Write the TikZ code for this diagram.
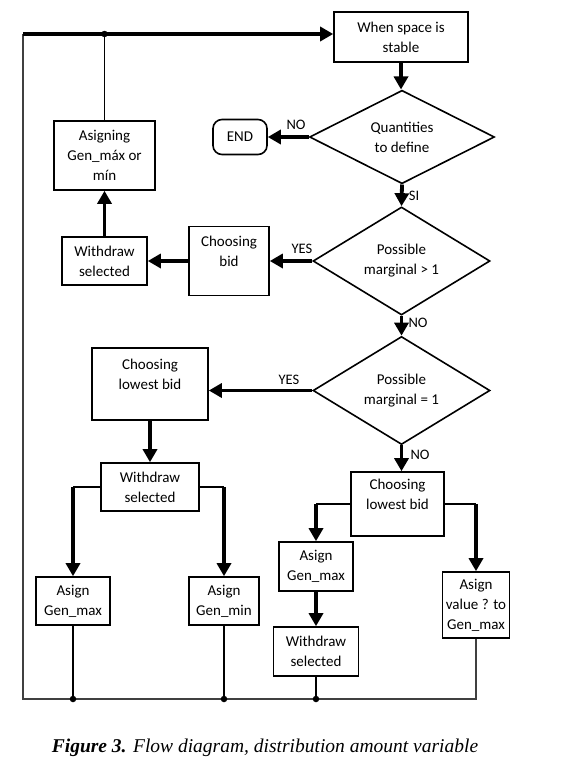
\documentclass[tikz,border=0pt]{standalone}
\usepackage{fontspec}
\setmainfont{Liberation Serif}
\newfontfamily\boxfont{Carlito}
\usetikzlibrary{arrows.meta,shapes.geometric}
\begin{document}
\begin{tikzpicture}[x=1pt,y=-1pt,
  every node/.style={font=\boxfont\fontsize{15}{20}\selectfont, inner sep=0pt, align=center},
  box/.style={draw, line width=1.6pt, rectangle},
  dec/.style={draw, line width=1.6pt, diamond},
  term/.style={draw, line width=1.6pt, rectangle, rounded corners=9pt},
  flow/.style={line width=3.8pt, -{Triangle[length=13pt,width=14pt]}},
  feed/.style={line width=2.2pt},
  thinline/.style={line width=1.5pt},
  loopline/.style={line width=2.2pt, black!75},
  lbl/.style={font=\boxfont\fontsize{14.5}{16}\selectfont},
  dot/.style={circle, fill, inner sep=0pt, minimum size=6.5pt},
]
\useasboundingbox (0,0) rectangle (580,779);

% nodes
\node[box, minimum width=134pt, minimum height=50pt] (start) at (401,37) {When space is\\stable};
\node[dec, minimum width=185pt, minimum height=87pt] (d1) at (402,137) {Quantities\\to define};
\node[term, minimum width=54pt, minimum height=35pt] (end) at (240,137) {END};
\node[dec, minimum width=177pt, minimum height=85pt] (d2) at (401.5,261) {Possible\\marginal > 1};
\node[box, minimum width=80pt, minimum height=69pt] (bid) at (229,261) {Choosing\\bid\\\mbox{}};
\node[box, minimum width=85pt, minimum height=48pt] (wd1) at (104.5,261) {Withdraw\\selected};
\node[box, minimum width=101pt, minimum height=69pt] (asg) at (104.5,155.5) {Asigning\\Gen\_máx or\\mín};
\node[dec, minimum width=177pt, minimum height=85pt] (d3) at (401.5,390.5) {Possible\\marginal = 1};
\node[box, minimum width=116pt, minimum height=72pt] (low1) at (150,384) {Choosing\\lowest bid\\\mbox{}};
\node[box, minimum width=98pt, minimum height=48pt] (wd2) at (150,487) {Withdraw\\selected};
\node[box, minimum width=74pt, minimum height=48pt] (gmax1) at (73,601) {Asign\\Gen\_max};
\node[box, minimum width=70pt, minimum height=48pt] (gmin) at (224,601) {Asign\\Gen\_min};
\node[box, minimum width=93pt, minimum height=64pt] (low2) at (397.5,504) {Choosing\\lowest bid\\\mbox{}};
\node[box, minimum width=74pt, minimum height=49pt] (gmax2) at (316,566.5) {Asign\\Gen\_max};
\node[box, minimum width=85pt, minimum height=49pt] (wd3) at (316,651.5) {Withdraw\\selected};
\node[box, minimum width=67pt, minimum height=66pt] (val) at (476,605) {Asign\\value ? to\\Gen\_max};

% coordinates
\coordinate (cTL) at (23,34);
\coordinate (cBL) at (23,699);
\coordinate (cBR) at (val.south |- cBL);
\coordinate (j0) at (asg.north |- cTL);
\coordinate (b1) at (gmax1.south |- cBL);
\coordinate (b2) at (gmin.south |- cBL);
\coordinate (b3) at (wd3.south |- cBL);
\coordinate (k1) at (wd2.west -| gmax1.north);
\coordinate (k2) at (wd2.east -| gmin.north);
\coordinate (k3) at (low2.west -| gmax2.north);
\coordinate (k4) at (low2.east -| val.north);

% main flow
\draw[flow] (start.south) -- (start.south |- d1.north);
\draw[flow] (d1.west) -- (end.east);
\draw[flow] (d1.south) -- (d2.north);
\draw[flow] (d2.west) -- (d2.west -| bid.east);
\draw[flow] (bid.west) -- (bid.west -| wd1.east);
\draw[flow] (wd1.north) -- (asg.south);
\draw[thinline] (asg.north) -- (j0);
\draw[flow] (d2.south) -- (d3.north);
\draw[flow] (d3.west) -- (d3.west -| low1.east);
\draw[flow] (low1.south) -- (wd2.north);
\draw[feed] (wd2.west) -- (k1);
\draw[flow] (k1) -- (gmax1.north);
\draw[feed] (wd2.east) -- (k2);
\draw[flow] (k2) -- (gmin.north);
\draw[flow] (d3.south) -- (d3.south |- low2.north);
\draw[feed] (low2.west) -- (k3);
\draw[flow] (k3) -- (gmax2.north);
\draw[feed] (low2.east) -- (k4);
\draw[flow] (k4) -- (val.north);
\draw[flow] (gmax2.south) -- (wd3.north);

% return loop
\draw[thinline] (gmax1.south) -- (b1);
\draw[thinline] (gmin.south) -- (b2);
\draw[thinline] (wd3.south) -- (b3);
\draw[loopline] (val.south) -- (cBR) -- (cBL) -- (cTL);
\draw[flow] (cTL) -- (cTL -| start.west);
\node[dot] (dj0) at (j0) {};
\node[dot] (db1) at (b1) {};
\node[dot] (db2) at (b2) {};
\node[dot] (db3) at (b3) {};

% labels
\node[lbl] (lno1) at (296,125) {NO};
\node[lbl] (lsi) at (414,196) {SI};
\node[lbl] (lyes1) at (302,249) {YES};
\node[lbl] (lno2) at (418,323) {NO};
\node[lbl] (lyes2) at (289,380) {YES};
\node[lbl] (lno3) at (420,455) {NO};

% caption
\node[font=\rmfamily\itshape\fontsize{19.5}{22}\selectfont] (cap) at (265,748) {\textbf{Figure 3.} Flow diagram, distribution amount variable};
\end{tikzpicture}
\end{document}
